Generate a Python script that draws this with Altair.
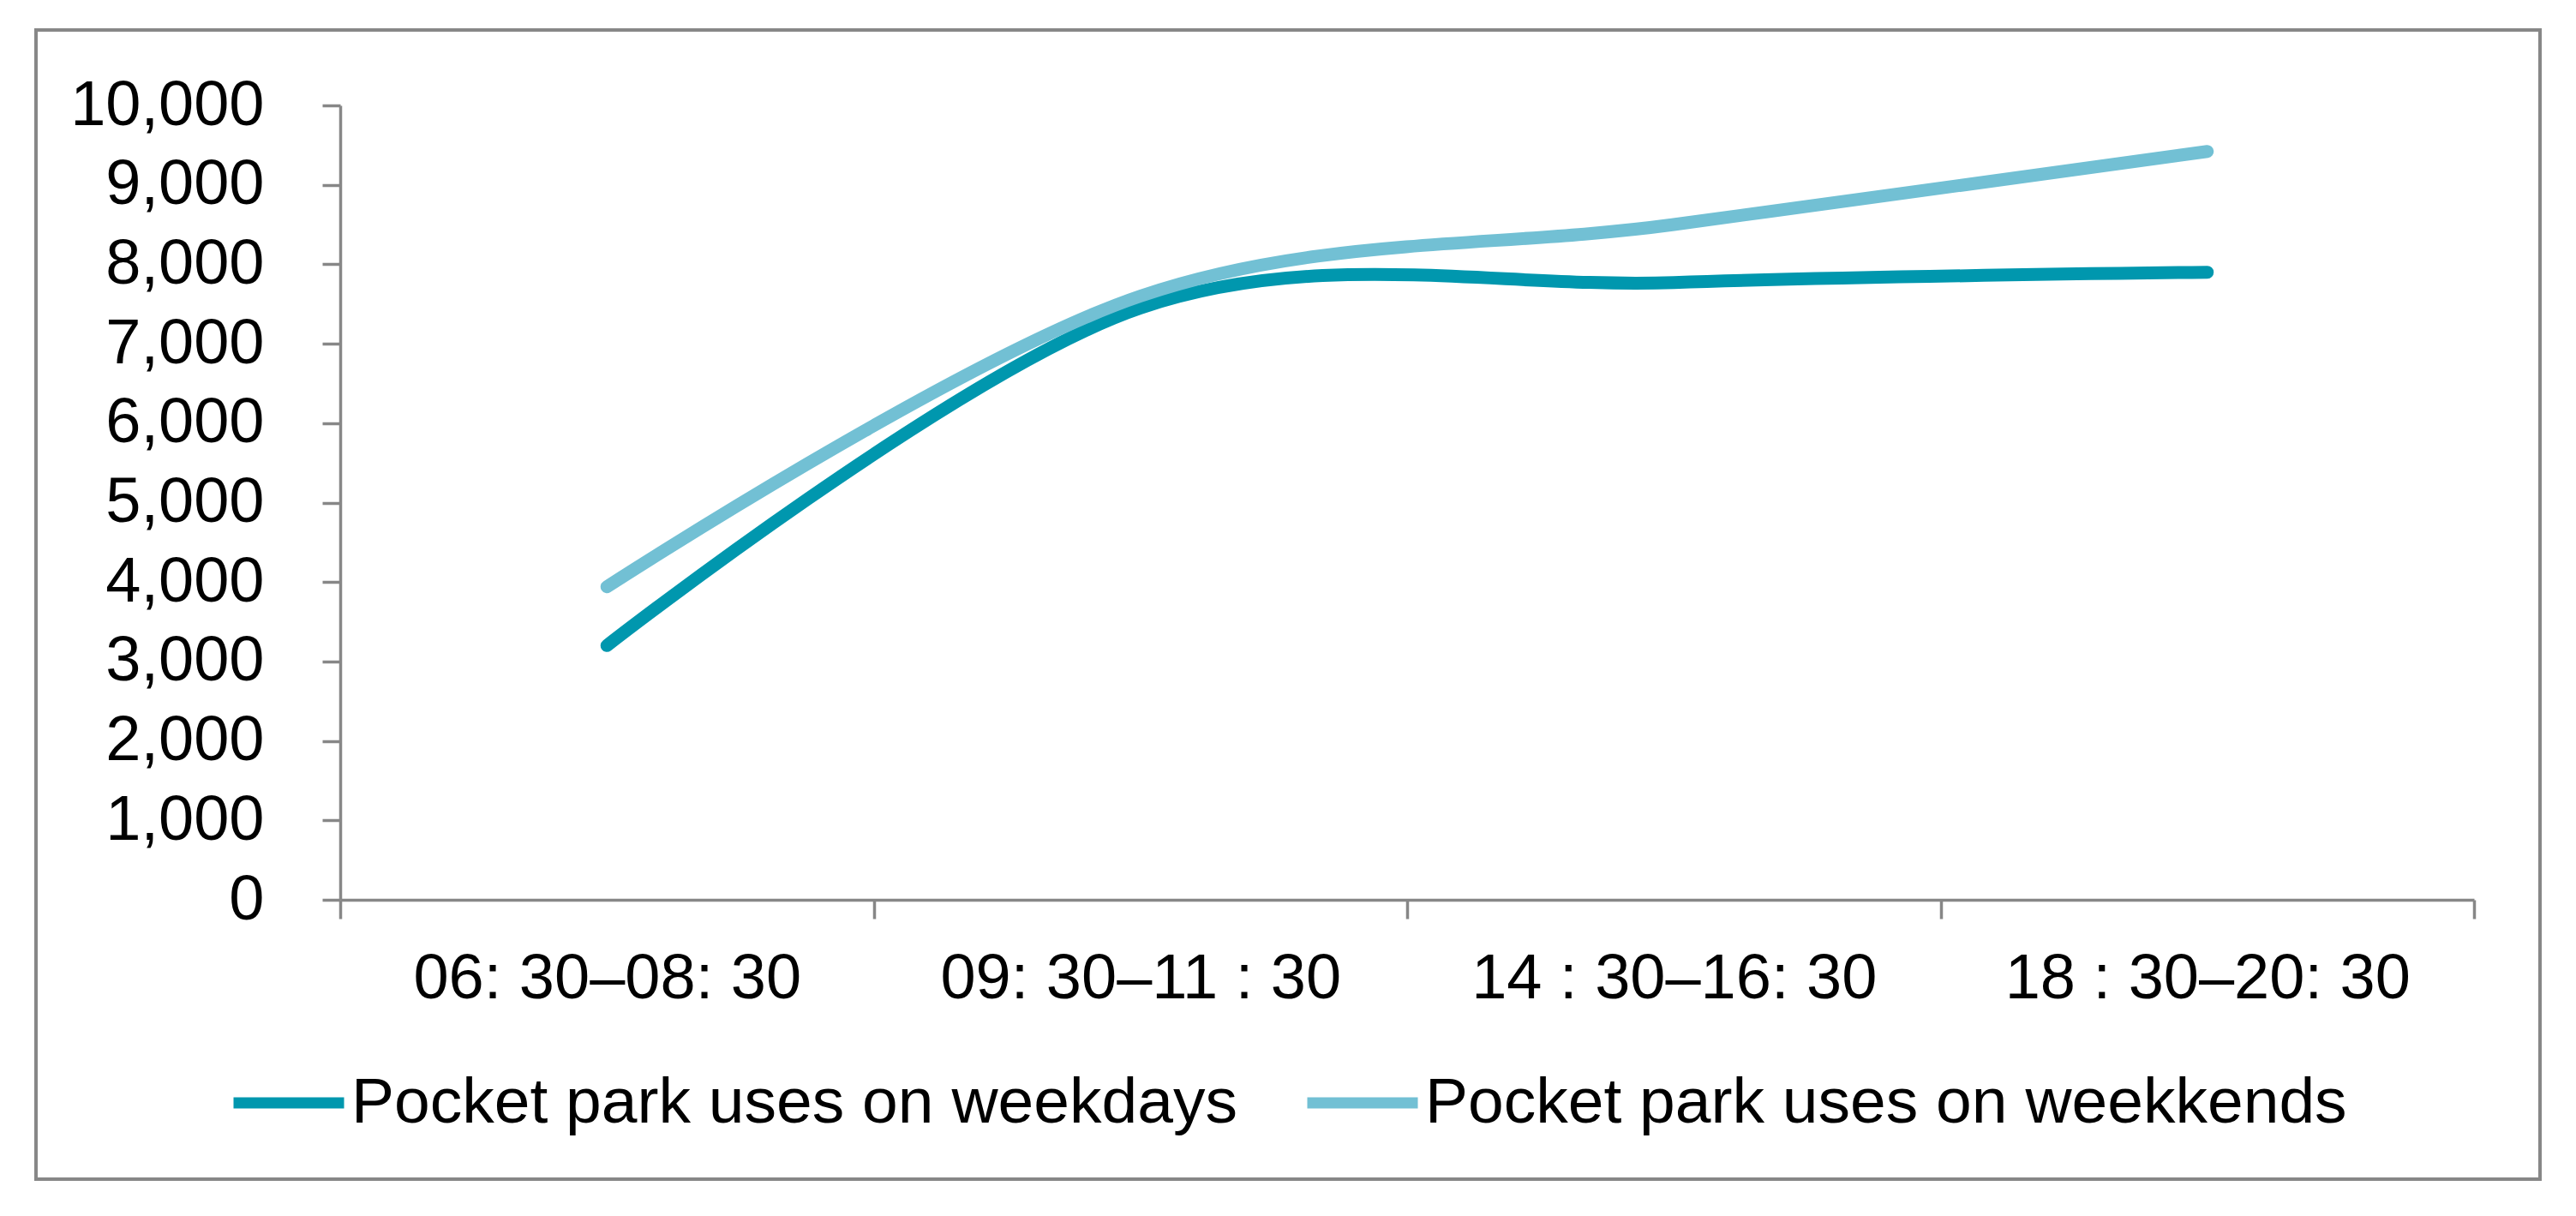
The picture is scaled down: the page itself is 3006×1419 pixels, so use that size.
import altair as alt
import pandas as pd

categories = ["06: 30–08: 30", "09: 30–11 : 30", "14 : 30–16: 30", "18 : 30–20: 30"]
weekdays = [3200, 7450, 7770, 7900]
weekends = [3940, 7600, 8500, 9420]
series_names = ["Pocket park uses on weekdays", "Pocket park uses on weekkends"]
colors = ["#0097AE", "#72C0D4"]

rows = []
for c, v in zip(categories, weekdays):
    rows.append({"cat": c, "value": v, "series": series_names[0]})
for c, v in zip(categories, weekends):
    rows.append({"cat": c, "value": v, "series": series_names[1]})
df = pd.DataFrame(rows)

FONT = "Liberation Sans"
GRAY = "#878787"
W, H = 2490, 927

lines = alt.Chart(df).mark_line(
    strokeWidth=15, strokeCap="round", interpolate="cardinal"
).encode(
    x=alt.X("cat:N", sort=categories, bandPosition=0.5,
            scale=alt.Scale(type="band", paddingInner=0, paddingOuter=0),
            axis=alt.Axis(title=None, labelAngle=0, tickBand="extent",
                          labelFontSize=74, labelPadding=34, tickSize=22,
                          labelLimit=2000,
                          labelColor="black", labelFont=FONT,
                          domainColor=GRAY, tickColor=GRAY,
                          domainWidth=3.5, tickWidth=3.5, grid=False)),
    y=alt.Y("value:Q", scale=alt.Scale(domain=[0, 10000], nice=False),
            axis=alt.Axis(title=None, values=list(range(0, 10001, 1000)), format=",.0f",
                          labelFontSize=74, labelPadding=68, tickSize=21,
                          labelLimit=2000,
                          labelColor="black", labelFont=FONT,
                          domainColor=GRAY, tickColor=GRAY,
                          domainWidth=3.5, tickWidth=3.5, grid=False)),
    color=alt.Color("series:N", sort=series_names,
                    scale=alt.Scale(domain=series_names, range=colors),
                    legend=alt.Legend(title=None, orient="none", direction="horizontal",
                                      legendX=-131, legendY=1093,
                                      symbolType="stroke", symbolSize=16641,
                                      symbolStrokeWidth=13, labelFontSize=75,
                                      labelFont=FONT, labelColor="black",
                                      labelLimit=2000, labelOffset=2,
                                      columnPadding=55, padding=0)),
)

frame = alt.Chart(pd.DataFrame({"a": [0]})).mark_rect(
    fill=None, stroke=GRAY, strokeWidth=4
).encode(
    x=alt.value(-355), x2=alt.value(2567), y=alt.value(-88), y2=alt.value(1253)
)

chart = alt.layer(frame, lines).properties(
    width=W, height=H,
    autosize=alt.AutoSizeParams(type="none"),
    padding={"left": 389, "top": 115, "right": 100, "bottom": 340},
    background="white",
).configure_view(stroke=None)

chart.save("out.html", embed_options={"renderer": "svg", "actions": False})
